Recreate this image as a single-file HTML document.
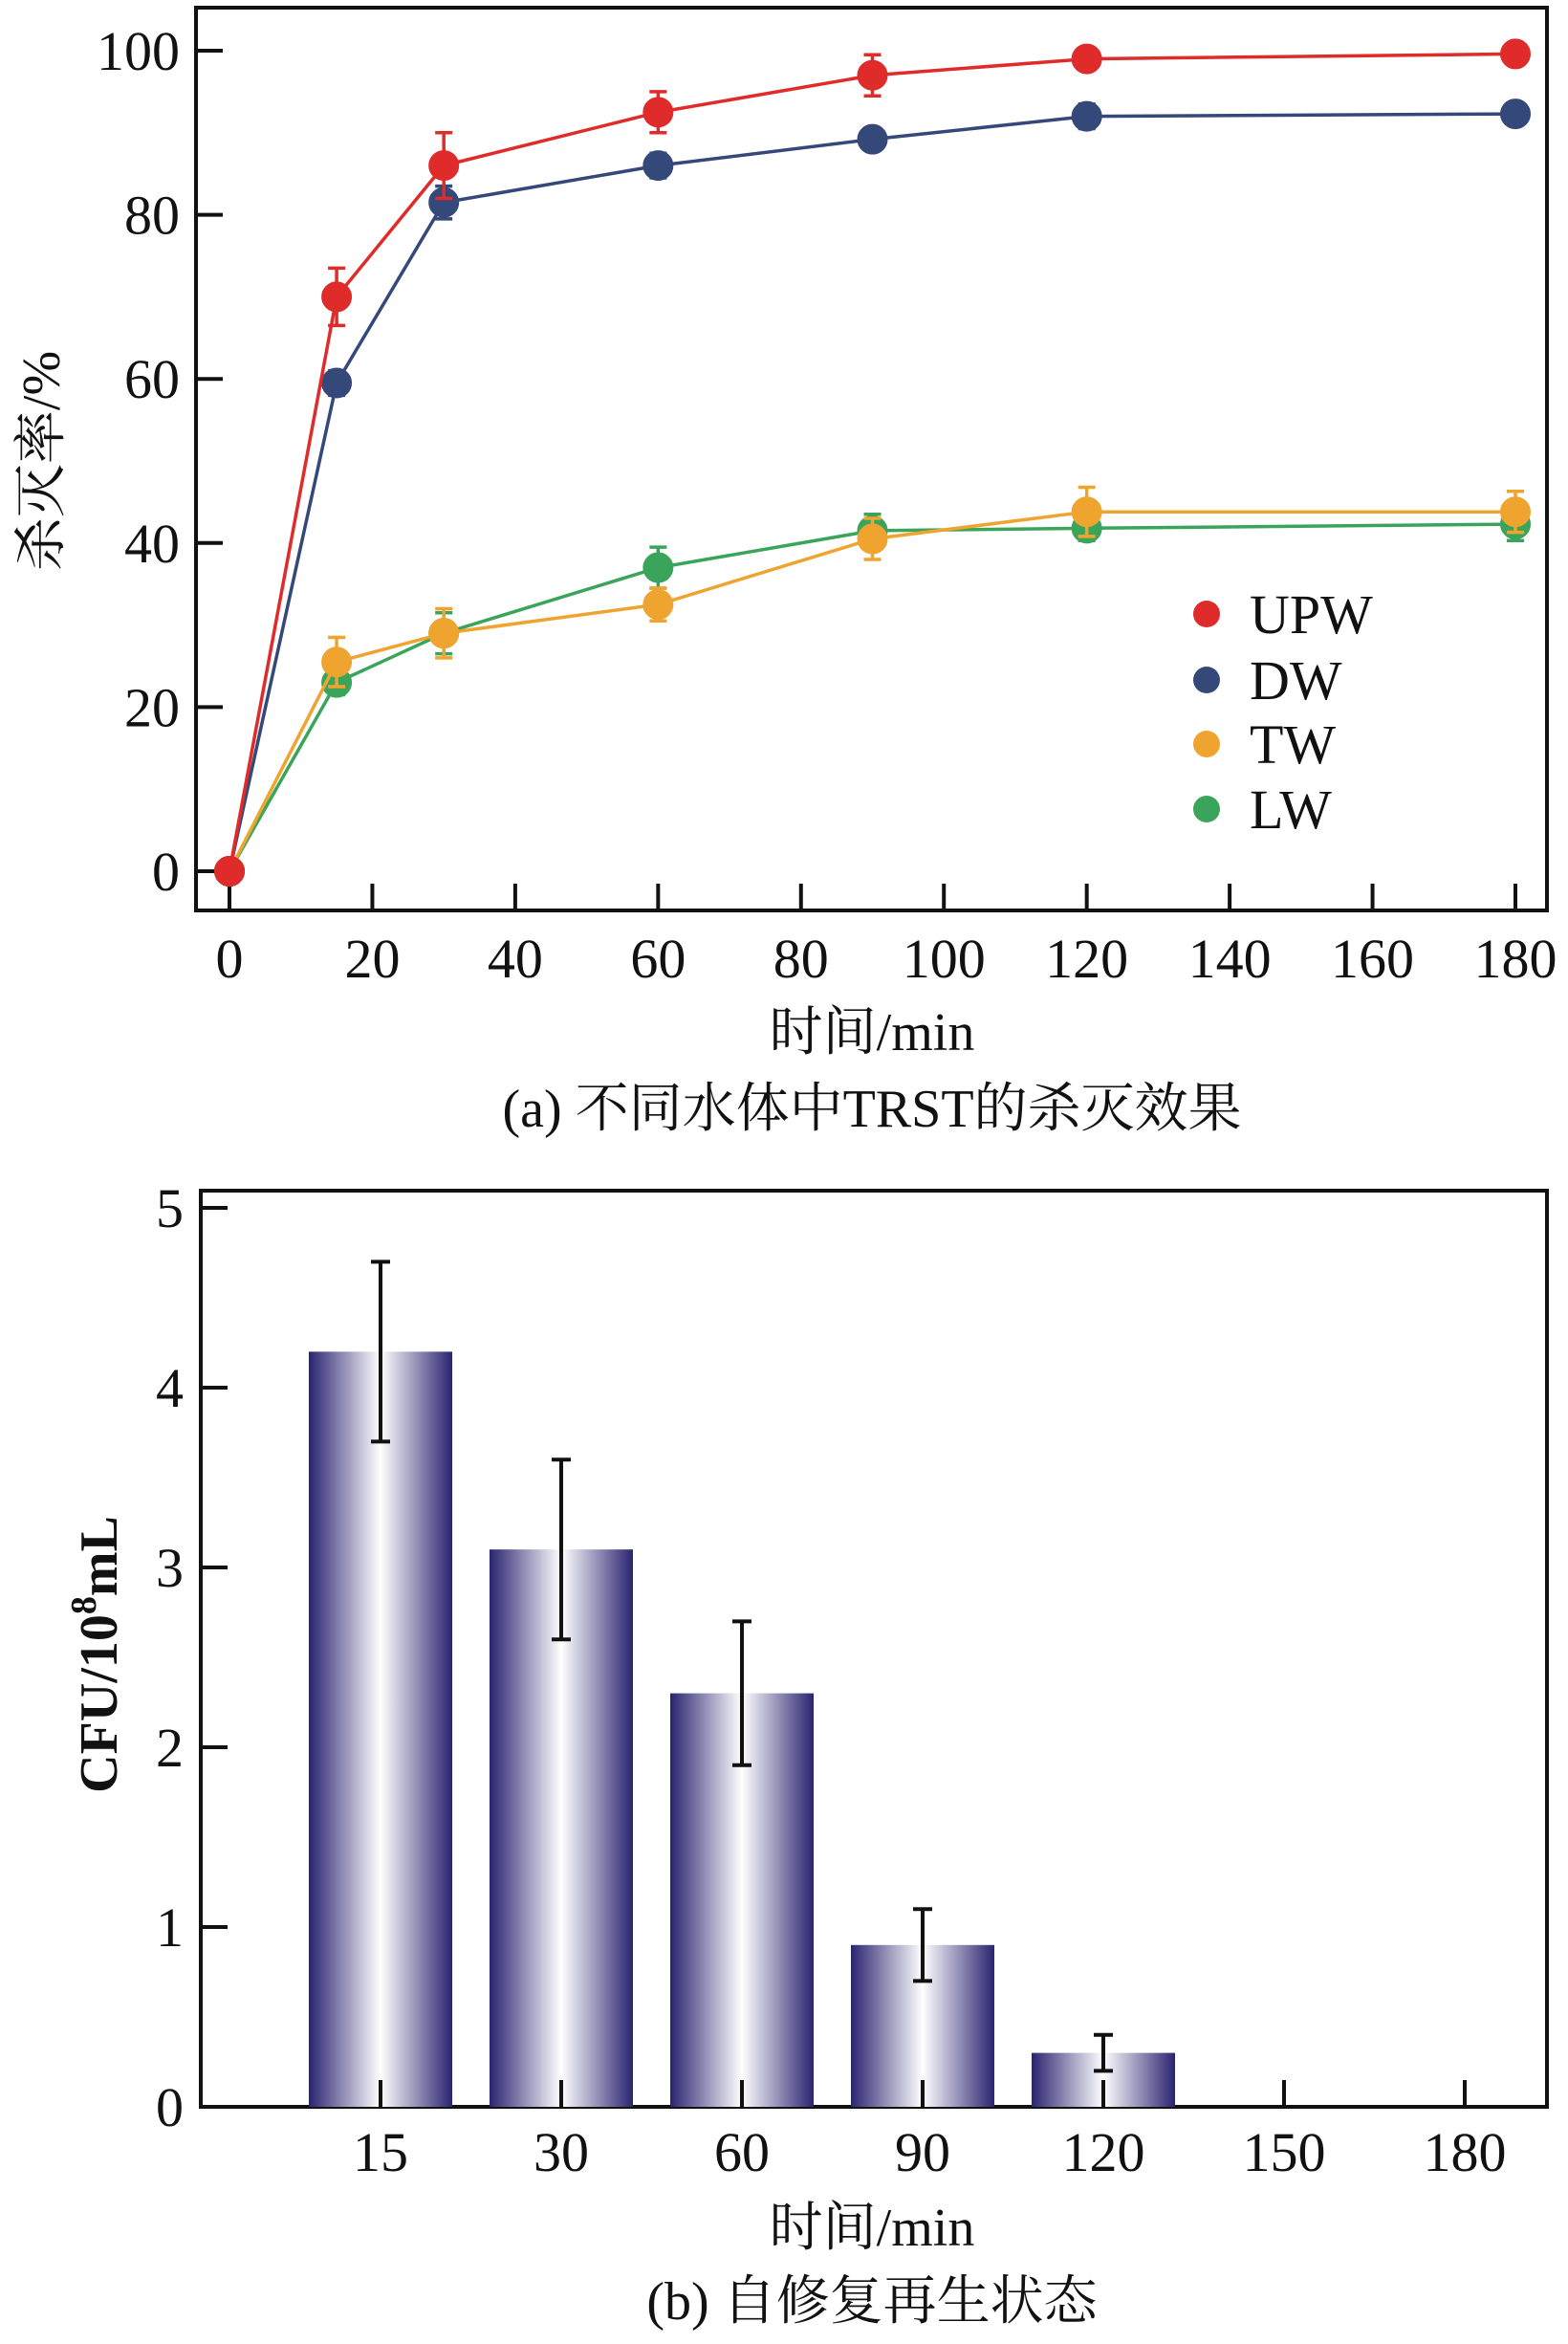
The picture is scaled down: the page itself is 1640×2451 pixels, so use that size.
<!DOCTYPE html>
<html><head><meta charset="utf-8"><style>
body{margin:0;background:#fff;}
svg{display:block;}
text{font-family:"Liberation Serif","Noto Serif CJK SC","Noto Sans CJK SC",serif;fill:#111;}
</style></head><body>
<svg id="svg" width="1640" height="2451" viewBox="0 0 1640 2451" xmlns="http://www.w3.org/2000/svg">
<defs>
<linearGradient id="barGrad" x1="0" x2="1" y1="0" y2="0">
<stop offset="0" stop-color="#2a2470"/><stop offset="0.5" stop-color="#ffffff"/><stop offset="1" stop-color="#2a2470"/>
</linearGradient>
</defs>
<g id="chartA"></g>
<g id="chartB"></g>
</svg>
<script>
// ---- Chart A data ----
const timesA = [0, 15, 30, 60, 90, 120, 180];
const upwVals = [0, 70, 86, 92.5, 97, 99, 99.6];
const upwErr = [0, 3.5, 4, 2.5, 2.5, 1, 1];
const dwVals = [0, 59.5, 81.5, 86, 89.2, 92, 92.3];
const dwErr = [0, 1.5, 2, 1.5, 1, 1.5, 1];
const twVals = [0, 25.5, 29, 32.5, 40.5, 43.8, 43.8];
const twErr = [0, 3, 3, 2, 2.5, 3, 2.5];
const lwVals = [0, 23, 29, 37, 41.5, 41.8, 42.3];
const lwErr = [0, 1.5, 2.5, 2.5, 2, 1.5, 2];
const seriesNames = ["UPW", "DW", "TW", "LW"];
const xTicksA = [0, 20, 40, 60, 80, 100, 120, 140, 160, 180];
const yTicksA = [0, 20, 40, 60, 80, 100];
// ---- Chart B data ----
const catsB = ["15", "30", "60", "90", "120", "150", "180"];
const cfuVals = [4.2, 3.1, 2.3, 0.9, 0.3, 0, 0];
const cfuErr = [0.5, 0.5, 0.4, 0.2, 0.1, 0, 0];
const yTicksB = [0, 1, 2, 3, 4, 5];

const NS = "http://www.w3.org/2000/svg";
function mk(tag, attrs, parent, txt){
  const e = document.createElementNS(NS, tag);
  for (const k in attrs) e.setAttribute(k, attrs[k]);
  if (txt !== undefined) e.textContent = txt;
  parent.appendChild(e);
  return e;
}
// ---- Chart A ----
const A = document.getElementById('chartA');
const ax = v => 240 + v * (1585 - 240) / 180;
const ay = v => 911 - v * (911 - 53) / 100;
let box = mk('rect', {x:205, y:8, width:1413, height:944, fill:'none', stroke:'#111', 'stroke-width':4}, A);


xTicksA.forEach(t => {
  let l = mk('line', {x1:ax(t), x2:ax(t), y1:952, y2:924, stroke:'#111', 'stroke-width':4}, A);
  
  
  let tx = mk('text', {x:ax(t), y:1022, 'font-size':58, 'text-anchor':'middle'}, A, t);
  
  
});
yTicksA.forEach(t => {
  let l = mk('line', {x1:205, x2:233, y1:ay(t), y2:ay(t), stroke:'#111', 'stroke-width':4}, A);
  
  
  let tx = mk('text', {x:188, y:ay(t)+20, 'font-size':58, 'text-anchor':'end'}, A, t);
  
  
});
let xt = mk('text', {x:912, y:1098, 'font-size':56, 'text-anchor':'middle'}, A, '时间/min');


let yt = mk('text', {x:0, y:0, 'font-size':56, 'text-anchor':'middle', transform:'translate(62,482) rotate(-90)'}, A, '杀灭率/%');


let capA = mk('text', {x:912, y:1178, 'font-size':56, 'text-anchor':'middle'}, A, '(a) 不同水体中TRST的杀灭效果');



const allVals = [upwVals, dwVals, twVals, lwVals];
const allErr = [upwErr, dwErr, twErr, lwErr];
const colors = ["#e02b2b", "#34497a", "#f0a430", "#3aa55a"];
// draw lower series first so top ones overlay
[3,2,1,0].forEach(s => {
  const g = mk('g', {}, A);
  
  
  const pts = timesA.map((t,i) => ax(t) + ',' + ay(allVals[s][i])).join(' ');
  let pl = mk('polyline', {points:pts, fill:'none', stroke:colors[s], 'stroke-width':3.5}, g);
  
  
  timesA.forEach((t,i) => {
    const cx = ax(t), v = allVals[s][i], e = allErr[s][i];
    if (e > 0) {
      let eb = mk('path', {d:`M${cx},${ay(v+e)}V${ay(v-e)}M${cx-9},${ay(v+e)}H${cx+9}M${cx-9},${ay(v-e)}H${cx+9}`, stroke:colors[s], 'stroke-width':3.5, fill:'none'}, g);
      
      
    }
    let c = mk('circle', {cx:cx, cy:ay(v), r:15, fill:colors[s], stroke:colors[s], 'stroke-width':2}, g);
    
    
  });
});
const legY = [642, 711, 778, 846];
seriesNames.forEach((n, s) => {
  const g = mk('g', {}, A);
  
  
  mk('circle', {cx:1262, cy:legY[s], r:14, fill:colors[s]}, g);
  mk('text', {x:1307, y:legY[s]+20, 'font-size':58}, g, n);
});

// ---- Chart B ----
const B = document.getElementById('chartB');
const bx = i => 398 + i * 189;
const by = v => 2203 - v * 188;
let boxB = mk('rect', {x:210, y:1245, width:1408, height:958, fill:'none', stroke:'#111', 'stroke-width':4}, B);


catsB.forEach((c, i) => {
  const v = cfuVals[i], e = cfuErr[i];
  if (v > 0) {
    let r = mk('rect', {x:bx(i)-75, y:by(v), width:150, height:by(0)-by(v), fill:'url(#barGrad)'}, B);
    
    
  }
  if (e > 0) {
    let eb = mk('path', {d:`M${bx(i)},${by(v+e)}V${by(v-e)}M${bx(i)-10},${by(v+e)}H${bx(i)+10}M${bx(i)-10},${by(v-e)}H${bx(i)+10}`, stroke:'#111', 'stroke-width':4, fill:'none'}, B);
    
    
  }
  let l = mk('line', {x1:bx(i), x2:bx(i), y1:2203, y2:2175, stroke:'#111', 'stroke-width':4}, B);
  
  
  let tx = mk('text', {x:bx(i), y:2270, 'font-size':58, 'text-anchor':'middle'}, B, c);
  
  
});
yTicksB.forEach(t => {
  let l = mk('line', {x1:210, x2:238, y1:by(t), y2:by(t), stroke:'#111', 'stroke-width':4}, B);
  
  
  let tx = mk('text', {x:192, y:by(t)+20, 'font-size':58, 'text-anchor':'end'}, B, t);
  
  
});
let xtB = mk('text', {x:912, y:2348, 'font-size':56, 'text-anchor':'middle'}, B, '时间/min');


let ytB = mk('text', {x:0, y:0, 'font-size':56, 'font-weight':'bold', 'text-anchor':'middle', transform:'translate(122,1730) rotate(-90)'}, B);


mk('tspan', {}, ytB, 'CFU/10');
mk('tspan', {dy:-22, 'font-size':38}, ytB, '8');
mk('tspan', {dy:22}, ytB, 'mL');
let capB = mk('text', {x:912, y:2425, 'font-size':56, 'text-anchor':'middle'}, B, '(b) 自修复再生状态');


</script>
</body></html>
